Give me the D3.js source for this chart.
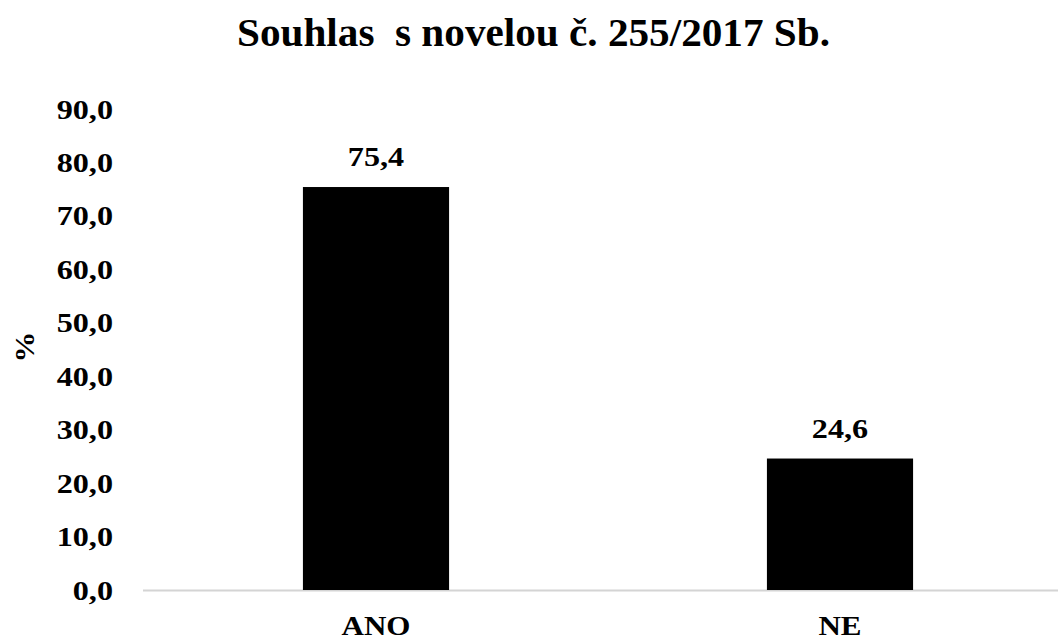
<!DOCTYPE html>
<html>
<head>
<meta charset="utf-8">
<script src="https://cdn.jsdelivr.net/npm/d3@7"></script>
<style>
  body { margin: 0; background: #fff; }
  svg text { font-family: "Liberation Serif", "Times New Roman", serif; font-weight: bold; fill: #000; white-space: pre; }
</style>
</head>
<body>
<svg id="chart" width="1058" height="641"></svg>
<script>
// chart data
const categories = ['ANO', 'NE'];
const values = [75.4, 24.6];
const yTicks = [0, 10, 20, 30, 40, 50, 60, 70, 80, 90];
const title = 'Souhlas  s novelou č. 255/2017 Sb.';
const yLabel = '%';

const svg = d3.select('#chart');
const sx = 1.15; // text in the source is a bit wider than the font

const x = d3.scaleBand()
    .domain(categories)
    .range([144, 1072])
    .paddingInner(0.685)
    .paddingOuter(0.3425);

const y = d3.scaleLinear()
    .domain([0, 90])
    .range([590, 109]);

const fmt = v => v.toFixed(1).replace('.', ',');

// stretched text helper
function label(tx, ty, str, size, anchor) {
    return svg.append('text')
        .attr('transform', `translate(${tx},${ty}) scale(${sx},1)`)
        .attr('text-anchor', anchor || 'middle')
        .attr('font-size', size)
        .text(str);
}

// title
svg.append('text')
    .attr('x', 237)
    .attr('y', 46)
    .attr('font-size', 39)
    .attr('textLength', 593)
    .attr('lengthAdjust', 'spacingAndGlyphs')
    .text(title);

// y tick labels
yTicks.forEach(t => {
    label(113, y(t) + 9.5, fmt(t), 28, 'end');
});

// y axis title
svg.append('text')
    .attr('transform', 'translate(34,347) rotate(-90) scale(1.1,1)')
    .attr('text-anchor', 'middle')
    .attr('font-size', 28)
    .text(yLabel);

// baseline
svg.append('line')
    .attr('x1', 143)
    .attr('x2', 1072)
    .attr('y1', y(0) + 0.5)
    .attr('y2', y(0) + 0.5)
    .attr('stroke', '#d4d4d4')
    .attr('stroke-width', 2);

// bars
svg.selectAll('rect.bar')
    .data(values)
    .join('rect')
    .attr('class', 'bar')
    .attr('x', (d, i) => x(categories[i]))
    .attr('y', d => y(d))
    .attr('width', x.bandwidth())
    .attr('height', d => y(0) - y(d))
    .attr('fill', '#000');

// value labels
values.forEach((v, i) => {
    label(x(categories[i]) + x.bandwidth() / 2, y(v) - 21, fmt(v), 28);
});

// category labels
categories.forEach(c => {
    label(x(c) + x.bandwidth() / 2, 635, c, 27);
});
</script>
</body>
</html>
